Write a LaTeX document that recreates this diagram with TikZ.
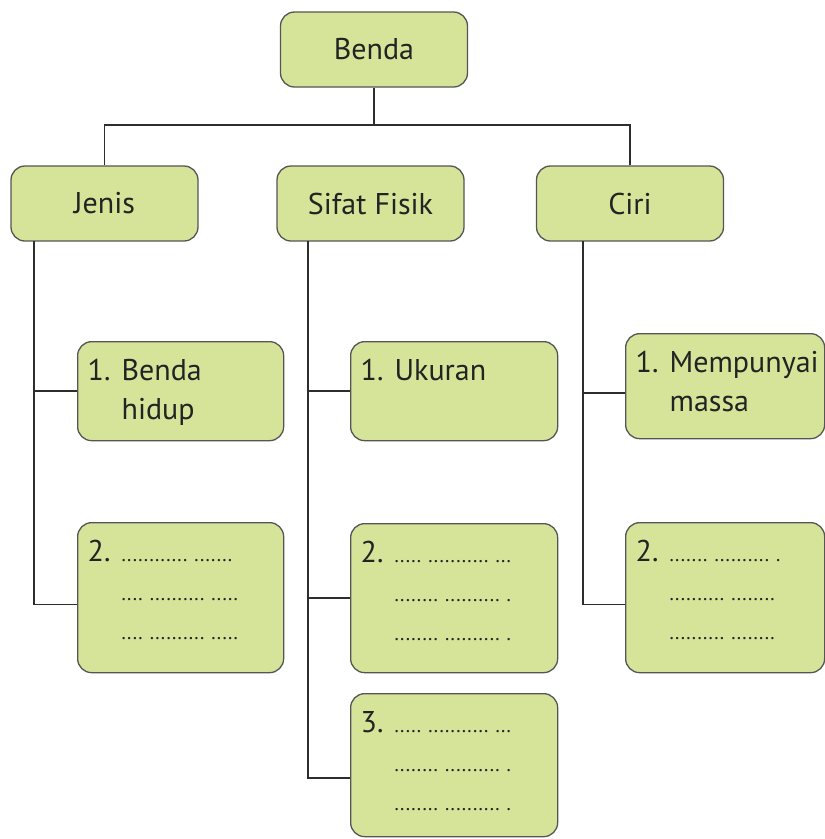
\documentclass[tikz,border=0pt]{standalone}
\usepackage{fontspec}
\setmainfont{PT Sans}
\usetikzlibrary{positioning,calc}
\definecolor{hijaumuda}{RGB}{213,228,153}
\definecolor{abutua}{RGB}{85,85,85}
\definecolor{garis}{RGB}{45,45,45}
\definecolor{tulisan}{RGB}{35,35,35}
\newcommand{\hurufisi}{\fontsize{30pt}{39pt}\selectfont}
\newcommand{\titik}{\fontsize{20pt}{39pt}\selectfont}
\newcommand{\isikotak}[3]{\begin{minipage}[t][#1][t]{#2}#3\end{minipage}}

\begin{document}
\begin{tikzpicture}[
  x=1pt, y=-1pt,
  kotak/.style={
    draw=abutua,
    fill=hijaumuda,
    line width=1.3pt,
    rounded corners=14pt,
    text=tulisan,
    font=\hurufisi
    },
  induk/.style={kotak, minimum width=187pt, minimum height=75pt},
  butir/.style={kotak, anchor=north west, inner xsep=10pt, inner ysep=12pt},
  hubung/.style={draw=garis, line width=1.4pt}
]
\useasboundingbox (0,0) rectangle (825,839);

\node[induk] (benda) at (374,49.5) {Benda};
\node[induk] (jenis) at (104.5,203.5) {Jenis};
\node[induk] (sifat) at (370.5,203.5) {Sifat Fisik};
\node[induk] (ciri) at (630,203.5) {Ciri};

\node[butir] (jenis1) at (77,341)
  {\isikotak{75pt}{186pt}{\begin{tabular}{@{}p{34pt}@{}l@{}}
  1. & Benda \\
     & hidup
  \end{tabular}}};
\node[butir] (jenis2) at (77,522)
  {\isikotak{126pt}{186pt}{\begin{tabular}{@{}p{34pt}@{}l@{}}
  2. & \titik ............ ....... \\
     & \titik .... .......... ..... \\
     & \titik .... .......... .....
  \end{tabular}}};

\node[butir] (sifat1) at (350,341)
  {\isikotak{75pt}{187pt}{\begin{tabular}{@{}p{34pt}@{}l@{}}
  1. & Ukuran
  \end{tabular}}};
\node[butir] (sifat2) at (350,523)
  {\isikotak{125pt}{187pt}{\begin{tabular}{@{}p{34pt}@{}l@{}}
  2. & \titik ..... ........... ... \\
     & \titik ........ .......... . \\
     & \titik ........ .......... .
  \end{tabular}}};
\node[butir] (sifat3) at (350,693)
  {\isikotak{119pt}{187pt}{\begin{tabular}{@{}p{34pt}@{}l@{}}
  3. & \titik ..... ........... ... \\
     & \titik ........ .......... . \\
     & \titik ........ .......... .
  \end{tabular}}};

\node[butir] (ciri1) at (625,333)
  {\isikotak{81pt}{179pt}{\begin{tabular}{@{}p{34pt}@{}l@{}}
  1. & Mempunyai \\
     & massa
  \end{tabular}}};
\node[butir] (ciri2) at (625,522)
  {\isikotak{126pt}{179pt}{\begin{tabular}{@{}p{34pt}@{}l@{}}
  2. & \titik ....... .......... . \\
     & \titik .......... ........ \\
     & \titik .......... ........
  \end{tabular}}};

% batang utama
\coordinate (cabang) at (374,125);
\draw[hubung] (benda.south) -- (cabang);
\draw[hubung] (jenis.north) |- (cabang) -| (ciri.north);

% cabang tiap kelompok
\coordinate (relJenis) at (34,241);
\coordinate (relSifat) at (308,241);
\coordinate (relCiri) at (583,241);

\draw[hubung] (relJenis) |- ([yshift=-7pt]jenis2.west);
\draw[hubung] (jenis1.west) -- (jenis1.west -| relJenis);

\draw[hubung] (relSifat) |- ([yshift=-13pt]sifat3.west);
\draw[hubung] (sifat1.west) -- (sifat1.west -| relSifat);
\draw[hubung] (sifat2.west) -- (sifat2.west -| relSifat);

\draw[hubung] (relCiri) |- ([yshift=-7pt]ciri2.west);
\draw[hubung] ([yshift=-7pt]ciri1.west) -- ([yshift=-7pt]ciri1.west -| relCiri);
\end{tikzpicture}
\end{document}
